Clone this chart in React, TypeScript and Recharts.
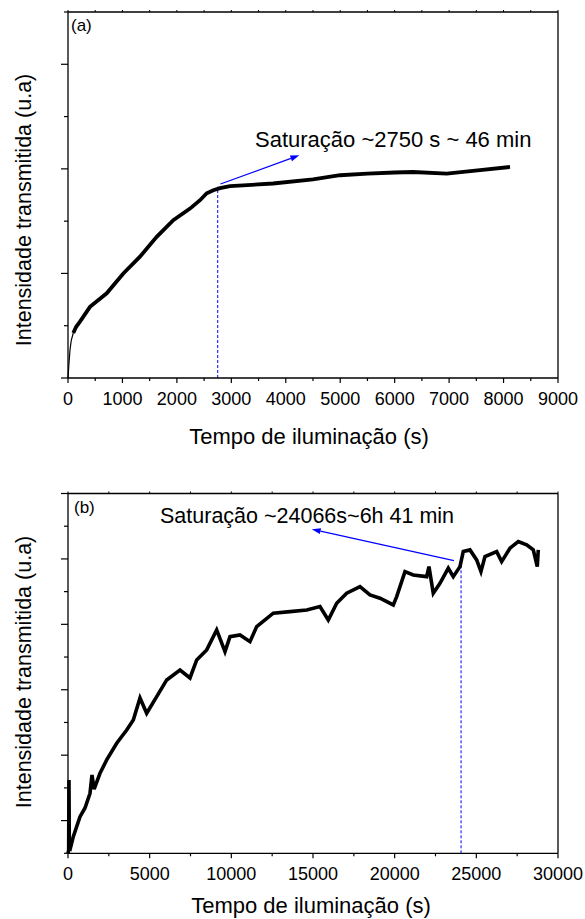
import React from 'react';
import { LineChart, Line, XAxis, YAxis, ReferenceLine } from 'recharts';

// (a) short exposure
const timeA = [0, 15, 37, 60, 97, 150, 220, 404, 711, 1016, 1322, 1629, 1934, 2241, 2425, 2548, 2669, 2792, 2976, 3766, 4500, 4996, 5500, 6000, 6337, 6956, 7568, 8119];
const intensityA = [0, 0.12, 0.27, 0.36, 0.43, 0.49, 0.54, 0.68, 0.81, 1.0, 1.16, 1.35, 1.51, 1.62, 1.7, 1.767, 1.796, 1.815, 1.834, 1.86, 1.9, 1.939, 1.955, 1.965, 1.97, 1.955, 1.987, 2.018];
const xTicksA = [0, 500, 1000, 1500, 2000, 2500, 3000, 3500, 4000, 4500, 5000, 5500, 6000, 6500, 7000, 7500, 8000, 8500, 9000];
const xMajorA = [0, 1000, 2000, 3000, 4000, 5000, 6000, 7000, 8000, 9000];
const yTicksA = [0, 0.5, 1, 1.5, 2, 2.5, 3, 3.5];
const yMajorA = [0, 1, 2, 3];
const saturationA = 2750;

// (b) long exposure
const timeB = [0, 40, 60, 80, 150, 324, 735, 1041, 1347, 1469, 1600, 1959, 2369, 2981, 3594, 3998, 4408, 4818, 5430, 6042, 6857, 7469, 7879, 8491, 9103, 9612, 9918, 10530, 11142, 11552, 12568, 13591, 14613, 15427, 15936, 16450, 17062, 17876, 18488, 19101, 19915, 20123, 20631, 21139, 21960, 22100, 22364, 22774, 23282, 23588, 23998, 24200, 24610, 25020, 25283, 25528, 26245, 26551, 27059, 27567, 28082, 28486, 28731, 28792];
const intensityB = [0, 0.05, 1.12, 0.1, 0.08, 0.254, 0.56, 0.693, 0.917, 1.197, 0.98, 1.223, 1.427, 1.682, 1.885, 2.038, 2.375, 2.141, 2.394, 2.65, 2.8, 2.68, 2.956, 3.109, 3.414, 3.083, 3.312, 3.338, 3.235, 3.465, 3.67, 3.694, 3.72, 3.771, 3.567, 3.823, 3.976, 4.076, 3.95, 3.899, 3.797, 3.924, 4.306, 4.255, 4.229, 4.382, 3.976, 4.128, 4.358, 4.229, 4.382, 4.612, 4.638, 4.485, 4.306, 4.535, 4.612, 4.459, 4.664, 4.765, 4.714, 4.638, 4.382, 4.638];
const xTicksB = [0, 2500, 5000, 7500, 10000, 12500, 15000, 17500, 20000, 22500, 25000, 27500, 30000];
const xMajorB = [0, 5000, 10000, 15000, 20000, 25000, 30000];
const yTicksB = [0, 0.5, 1, 1.5, 2, 2.5, 3, 3.5, 4, 4.5, 5, 5.5];
const yMajorB = [0.5, 1.5, 2.5, 3.5, 4.5, 5.5];
const saturationB = 24066;

const FONT = '"Liberation Sans", Arial, Helvetica, sans-serif';
const BLUE = '#0000ff';

const rowsA = timeA.map((t, i) => ({
  t,
  thin: i <= 4 ? intensityA[i] : null,
  thick: i >= 4 ? intensityA[i] : null,
}));
const rowsB = timeB.map((t, i) => ({ t, v: intensityB[i] }));

const BottomTick = (p: any) => {
  const major = p.majors.includes(p.payload.value);
  return (
    <g>
      <line x1={p.x} y1={p.y} x2={p.x} y2={p.y + (major ? 5 : 3)} stroke='#000' strokeWidth={1.2} />
      {major && (
        <text x={p.x} y={p.y + 27} textAnchor='middle' fontSize={18} fontFamily={FONT} fill='#000'>
          {p.payload.value}
        </text>
      )}
    </g>
  );
};

const TopTick = (p: any) => (
  <line x1={p.x} y1={p.y} x2={p.x} y2={p.y - 2} stroke='#000' strokeWidth={1} />
);

const LeftTick = (p: any) => {
  const len = p.majors.includes(p.payload.value) ? 7 : 4;
  return <line x1={p.x - len} y1={p.y} x2={p.x} y2={p.y} stroke='#000' strokeWidth={1.2} />;
};

const RightTick = (p: any) => (
  <line x1={p.x} y1={p.y} x2={p.x + 2} y2={p.y} stroke='#000' strokeWidth={1} />
);

const Arrow = (p: any) => {
  const { x1, y1, x2, y2 } = p;
  const a = Math.atan2(y2 - y1, x2 - x1);
  const L = 9;
  const W = 3;
  const bx = x2 - L * Math.cos(a);
  const by = y2 - L * Math.sin(a);
  const nx = -Math.sin(a) * W;
  const ny = Math.cos(a) * W;
  return (
    <g>
      <line x1={x1} y1={y1} x2={bx} y2={by} stroke={BLUE} strokeWidth={1.2} />
      <polygon points={`${x2},${y2} ${bx + nx},${by + ny} ${bx - nx},${by - ny}`} fill={BLUE} />
    </g>
  );
};

const axisLine = { stroke: '#000', strokeWidth: 1.3 };

function Frame({ xDomain, xTicks, xMajor, yDomain, yTicks, yMajor }: any) {
  return [
    <XAxis key='xb' xAxisId='b' dataKey='t' type='number' domain={xDomain} ticks={xTicks} interval={0}
      height={1} tickSize={0} tickMargin={0} tickLine={false} axisLine={axisLine}
      tick={(p: any) => <BottomTick {...p} majors={xMajor} />} />,
    <XAxis key='xt' xAxisId='t' orientation='top' dataKey='t' type='number' domain={xDomain} ticks={xTicks} interval={0}
      height={1} tickSize={0} tickMargin={0} tickLine={false} axisLine={axisLine}
      tick={(p: any) => <TopTick {...p} />} />,
    <YAxis key='yl' yAxisId='l' type='number' domain={yDomain} ticks={yTicks} interval={0}
      width={1} tickSize={0} tickMargin={0} tickLine={false} axisLine={axisLine}
      tick={(p: any) => <LeftTick {...p} majors={yMajor} />} />,
    <YAxis key='yr' yAxisId='r' orientation='right' type='number' domain={yDomain} ticks={yTicks} interval={0}
      width={1} tickSize={0} tickMargin={0} tickLine={false} axisLine={axisLine}
      tick={(p: any) => <RightTick {...p} />} />,
  ];
}

export default function App() {
  return (
    <div style={{ position: 'absolute', left: 0, top: 0, width: 585, height: 919, background: '#fff' }}>
      <LineChart width={585} height={460} data={rowsA} margin={{ top: 11, right: 26, bottom: 81, left: 67 }}>
        {Frame({ xDomain: [0, 9000], xTicks: xTicksA, xMajor: xMajorA, yDomain: [0, 3.5], yTicks: yTicksA, yMajor: yMajorA })}
        <ReferenceLine xAxisId='b' yAxisId='l' segment={[{ x: saturationA, y: 0 }, { x: saturationA, y: 1.83 }]}
          stroke={BLUE} strokeDasharray='3 2' strokeWidth={1} />
        <ReferenceLine xAxisId='b' yAxisId='l' segment={[{ x: 2800, y: 1.855 }, { x: 4250, y: 2.13 }]}
          shape={(p: any) => <Arrow {...p} />} />
        <Line xAxisId='b' yAxisId='l' dataKey='thin' type='linear' stroke='#000' strokeWidth={1.2} dot={false} isAnimationActive={false} connectNulls={false} />
        <Line xAxisId='b' yAxisId='l' dataKey='thick' type='linear' stroke='#000' strokeWidth={3.8} dot={false} isAnimationActive={false} connectNulls={false} />
      </LineChart>
      <LineChart width={585} height={459} data={rowsB} margin={{ top: 32.5, right: 26, bottom: 64.7, left: 67 }}>
        {Frame({ xDomain: [0, 30000], xTicks: xTicksB, xMajor: xMajorB, yDomain: [0, 5.5], yTicks: yTicksB, yMajor: yMajorB })}
        <ReferenceLine xAxisId='b' yAxisId='l' segment={[{ x: saturationB, y: 0 }, { x: saturationB, y: 4.41 }]}
          stroke={BLUE} strokeDasharray='3 2' strokeWidth={1} />
        <ReferenceLine xAxisId='b' yAxisId='l' segment={[{ x: 23630, y: 4.474 }, { x: 14920, y: 4.954 }]}
          shape={(p: any) => <Arrow {...p} />} />
        <Line xAxisId='b' yAxisId='l' dataKey='v' type='linear' stroke='#000' strokeWidth={3.6} dot={false} isAnimationActive={false} />
      </LineChart>
      <svg width={585} height={919} style={{ position: 'absolute', left: 0, top: 0, pointerEvents: 'none' }}
        fontFamily={FONT} fill='#000'>
        <text x={71} y={31} fontSize={17}>(a)</text>
        <text x={255} y={147} fontSize={22}>Saturação ~2750 s ~ 46 min</text>
        <text x={309} y={444} fontSize={22} textAnchor='middle'>Tempo de iluminação (s)</text>
        <text transform='translate(31,210) rotate(-90)' fontSize={21.5} textAnchor='middle'>Intensidade transmitida (u.a)</text>
        <text x={74} y={513} fontSize={17}>(b)</text>
        <text x={160} y={523} fontSize={21.5}>Saturação ~24066s~6h 41 min</text>
        <text x={311} y={913} fontSize={22} textAnchor='middle'>Tempo de iluminação (s)</text>
        <text transform='translate(31,672) rotate(-90)' fontSize={21.5} textAnchor='middle'>Intensidade transmitida (u.a)</text>
      </svg>
    </div>
  );
}
